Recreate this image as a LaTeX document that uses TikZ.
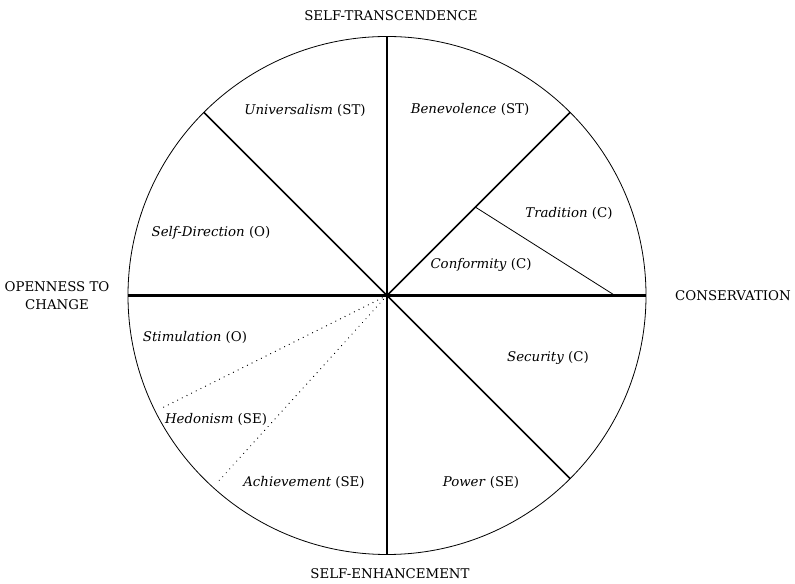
\documentclass[tikz,border=0pt]{standalone}
\usepackage{fontspec}
\setmainfont{DejaVu Serif}

\begin{document}
\begin{tikzpicture}[
	x=0.75pt, y=0.75pt,
	axis/.style={line width=1.7pt},
	diag/.style={line width=1.1pt},
	split/.style={line width=0.6pt},
	faint/.style={line width=0.9pt, line cap=round, dash pattern=on 0.1pt off 3.8pt},
	val/.style={font=\fontsize{10}{12}\selectfont, inner sep=1pt},
	pole/.style={font=\fontsize{10}{13.5}\selectfont, align=center, inner sep=1pt},
	]
	
	\useasboundingbox (-387,-288.5) rectangle (408,295.5);
	
	% Circle and its centre
	\coordinate (c) at (0,0);
	\draw[line width=0.6pt] (c) circle (259);
	
	% Points on the rim
	\coordinate (top)    at (90:259);
	\coordinate (bottom) at (270:259);
	\coordinate (left)   at (180:259);
	\coordinate (right)  at (0:259);
	\coordinate (ul)     at (135:259);
	\coordinate (ur)     at (45:259);
	\coordinate (lr)     at (-45:259);
	
	% Inner split points
	\coordinate (tr-in)  at (45:125);
	\coordinate (tr-out) at (228,0);
	\coordinate (dot-a)  at (-225,-112.5);
	\coordinate (dot-b)  at (-171,-188.5);
	
	% Main axes
	\draw[axis] (top)  -- (bottom);
	\draw[axis] (left) -- (right);
	
	% Diagonals
	\draw[diag] (c) -- (ul);
	\draw[diag] (c) -- (ur);
	\draw[diag] (c) -- (lr);
	
	% Tradition / Conformity split and dotted splits
	\draw[split] (tr-in) -- (tr-out);
	\draw[faint] (c) -- (dot-a);
	\draw[faint] (c) -- (dot-b);
	
	% Poles (x around the circle)
	\node[pole] (st)   at (4, 279.5)   {SELF-TRANSCENDENCE};
	\node[pole] (se)   at (3, -278.5)  {SELF-ENHANCEMENT};
	\node[pole] (open) at (-330, 0)    {OPENNESS TO\\CHANGE};
	\node[pole] (cons) at (346, 0)     {CONSERVATION};
	
	% Values
	\node[val] (univ)  at (-82, 185.5)  {\textit{Universalism} (ST)};
	\node[val] (bene)  at (83, 186.5)   {\textit{Benevolence} (ST)};
	\node[val] (trad)  at (182, 82.5)   {\textit{Tradition} (C)};
	\node[val] (conf)  at (94, 30.5)    {\textit{Conformity} (C)};
	\node[val] (sdir)  at (-176, 62.5)  {\textit{Self-Direction} (O)};
	\node[val] (stim)  at (-192, -41.5) {\textit{Stimulation} (O)};
	\node[val] (hedo)  at (-171, -123.5){\textit{Hedonism} (SE)};
	\node[val] (achv)  at (-83, -186.5) {\textit{Achievement} (SE)};
	\node[val] (secu)  at (161, -62.5)  {\textit{Security} (C)};
	\node[val] (powr)  at (94, -186.5)  {\textit{Power} (SE)};
	
\end{tikzpicture}
\end{document}
